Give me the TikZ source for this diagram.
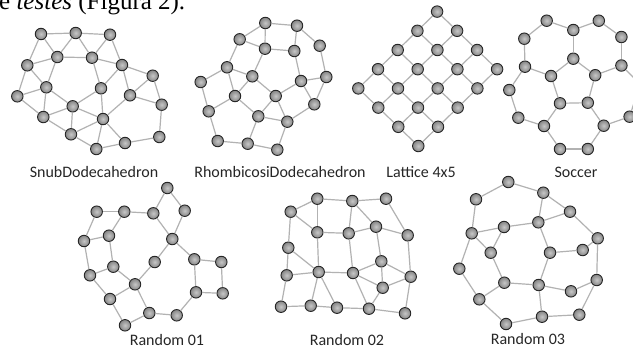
\documentclass[tikz,border=0pt]{standalone}
\usepackage{fontspec}
\newfontfamily\lblfont{Carlito}
\newfontfamily\docfont{Liberation Serif}
\begin{document}
\begin{tikzpicture}[x=1pt,y=-1pt,
  vtx/.style={circle,inner sep=0pt,minimum size=11.5pt,shading=radial,
    inner color=black!22,outer color=black!48,draw=black!85,line width=0.9pt},
  edg/.style={draw=black!30,line width=1.2pt},
  lbl/.style={font=\lblfont\fontsize{16}{19}\selectfont,text=black!85,inner sep=0pt}]
\useasboundingbox (0,0) rectangle (633,349);
\fill[white] (0,0) rectangle (633,349);
\clip (0,0) rectangle (633,349);

% running text of the page above the figure
\node[anchor=base west,inner sep=0pt,font=\docfont\fontsize{25}{30}\selectfont] (doc) at (-1,9.5) {e \textit{testes} (Figura 2).};

% ---------- SnubDodecahedron ----------
\foreach \n/\x/\y in {a1/41/34,a2/75.7/33,a3/110/34.7,a4/57.3/57,a5/92/57.7,
  a6/27.3/65.3,a7/122/65,a8/152.7/75.7,a9/46.3/87.3,a10/101/88.3,
  a11/17.3/96.3,a12/130/95.3,a13/161.7/104.7,a14/72.7/106.3,a15/43.3/117,
  a16/103/119,a17/71/134.3,a18/159.3/137,a19/125/143,a20/96.3/149}
  \node[vtx] (\n) at (\x,\y) {};
\foreach \u/\v in {a1/a2,a2/a3,a1/a4,a2/a4,a2/a5,a3/a5,a4/a5,a1/a6,a4/a6,a4/a9,
  a6/a9,a6/a11,a9/a11,a11/a15,a9/a15,a9/a14,a14/a15,a5/a10,a5/a7,a3/a7,a7/a10,
  a7/a8,a7/a12,a8/a12,a8/a13,a12/a13,a13/a18,a18/a19,a12/a16,a10/a16,a10/a14,
  a14/a16,a14/a17,a15/a17,a16/a17,a17/a20,a16/a20,a16/a19,a19/a20}
  \draw[edg] (\u) -- (\v);
\node[lbl] (snub) at (94,172) {SnubDodecahedron};

% ---------- RhombicosiDodecahedron ----------
\foreach \n/\x/\y in {r1/265.3/23,r2/297/25.7,r3/239.7/39.3,r4/265/48.7,r5/294.3/51,
  r6/319.7/45.7,r7/227/67.3,r8/252.3/76.3,r9/200.7/82,r10/301/81,r11/326.3/77,
  r12/235/96,r13/275.7/96,r14/208.7/111.3,r15/314.3/104.3,r16/258.3/116.3,
  r17/287.3/121.7,r18/217.7/141,r19/247.7/143.7,r20/277.3/149.7}
  \node[vtx] (\n) at (\x,\y) {};
\foreach \u/\v in {r1/r2,r1/r3,r1/r4,r3/r4,r4/r5,r2/r5,r2/r6,r5/r10,r6/r11,r4/r8,
  r3/r7,r7/r8,r7/r9,r7/r12,r8/r12,r8/r13,r9/r14,r12/r14,r12/r16,r13/r16,r13/r10,
  r13/r17,r16/r17,r10/r11,r10/r15,r11/r15,r15/r17,r16/r19,r14/r18,r18/r19,
  r17/r20,r19/r20}
  \draw[edg] (\u) -- (\v);
\node[lbl] (rhombi) at (280,172) {RhombicosiDodecahedron};

% ---------- Lattice 4x5 (grid turned by 45 degrees) ----------
\foreach \i in {0,...,3}
  \foreach \j in {0,...,4}
    \node[vtx] (L-\i-\j) at ({418.3-20*\i+19.7*\j},{146-19.2*(\i+\j)}) {};
\foreach \i in {0,...,3}
  \foreach \j [count=\k] in {0,...,3}
    \draw[edg] (L-\i-\j) -- (L-\i-\k);
\foreach \i [count=\k] in {0,...,2}
  \foreach \j in {0,...,4}
    \draw[edg] (L-\i-\j) -- (L-\k-\j);
\node[lbl] (lattice) at (421,172) {Lattice 4x5};

% ---------- Soccer ----------
\foreach \n/\x/\y in {s1/546.7/20.7,s2/573.3/30,s3/598.8/20.7,s4/524.3/38.7,
  s5/621.4/37,s6/573.3/58.7,s7/525/66.7,s8/621.4/65.5,s9/551/76,s10/595.2/75.2,
  s12/509.3/90,s13/560/103.3,s14/587.8/102.7,s15/518.3/117.7,s16/629.6/116.7,
  s17/544/126,s18/603.7/125.7,s19/560/149,s20/587.8/149}
  \node[vtx] (\n) at (\x,\y) {};
\coordinate (sx) at (640,84);
\foreach \u/\v in {s1/s2,s2/s3,s1/s4,s3/s5,s2/s6,s4/s7,s5/s8,s6/s9,s6/s10,s7/s9,
  s8/s10,s7/s12,s9/s13,s10/s14,s13/s14,s12/s15,s15/s17,s13/s17,s14/s18,s17/s19,
  s18/s20,s19/s20,s16/s18,s8/sx,s16/sx}
  \draw[edg] (\u) -- (\v);
\node[lbl] (soccer) at (576,172) {Soccer};

% ---------- Random 01 ----------
\foreach \n/\x/\y in {q1/167.3/188,q2/96.7/211.7,q3/124.3/211.7,q4/153.3/213.3,
  q5/184.7/210.7,q6/109/235.7,q7/84/241,q8/172.3/239,q9/154.7/262,q10/194.3/259.3,
  q11/221.3/262,q12/113.3/266.7,q13/90/275.3,q14/135/284.3,q15/196/292.3,
  q16/222.7/293.3,q17/110/299,q18/149.3/313,q19/176.7/315.3,q20/125/325.3}
  \node[vtx] (\n) at (\x,\y) {};
\foreach \u/\v in {q2/q3,q3/q4,q4/q1,q1/q5,q5/q8,q4/q8,q8/q9,q9/q14,q8/q10,q10/q11,
  q11/q16,q15/q16,q10/q15,q15/q19,q19/q18,q18/q14,q14/q12,q12/q13,q13/q7,q7/q2,
  q7/q6,q6/q3,q6/q12,q13/q17,q17/q14,q17/q20,q20/q18}
  \draw[edg] (\u) -- (\v);
\node[lbl] (rand1) at (167,340) {Random 01};

% ---------- Random 02 ----------
\foreach \n/\x/\y in {p1/317.3/198.7,p2/352.3/201,p3/386/198.7,p4/290.7/211.7,
  p5/376/226.7,p6/317.3/232.3,p7/348.7/233.3,p8/407.7/235.3,p9/288.3/247.7,
  p10/381.3/261.3,p11/318.7/272,p12/353/273,p13/286.7/275.3,p14/410.7/276.7,
  p15/382.7/287.7,p16/281/306.7,p17/310.7/305.7,p18/337/307.7,p19/369/308.7,
  p20/405/313.3}
  \node[vtx] (\n) at (\x,\y) {};
\foreach \u/\v in {p4/p1,p1/p2,p2/p3,p1/p6,p4/p6,p2/p7,p2/p5,p6/p7,p7/p5,p3/p8,
  p5/p8,p5/p10,p6/p11,p7/p12,p4/p9,p9/p13,p9/p11,p13/p11,p11/p12,p12/p10,p10/p14,
  p10/p15,p12/p15,p15/p14,p8/p14,p13/p16,p16/p17,p17/p18,p18/p19,p19/p20,p20/p14,
  p11/p17,p11/p18,p12/p19,p15/p19}
  \draw[edg] (\u) -- (\v);
\node[lbl] (rand2) at (347,340) {Random 02};

% ---------- Random 03 ----------
\foreach \n/\x/\y in {t1/508.3/182,t2/476/199.3,t3/543.3/192.7,t4/570/211.7,
  t5/538.3/222.3,t6/504/227,t7/471.7/233.3,t8/597.7/238.3,t9/490.7/252.7,
  t10/550/252.7,t11/582.7/250,t12/459.3/268.7,t13/596.7/280,t14/504.3/282.7,
  t15/538.7/285,t16/571/291.3,t17/479.3/299.3,t18/542/316.7,t19/579.3/314.7,
  t20/506/324}
  \node[vtx] (\n) at (\x,\y) {};
\foreach \u/\v in {t2/t1,t1/t3,t3/t5,t3/t4,t4/t5,t4/t8,t8/t11,t11/t10,t10/t5,t5/t6,
  t6/t7,t2/t7,t7/t9,t6/t9,t9/t14,t7/t12,t12/t17,t17/t14,t14/t15,t15/t10,t15/t16,
  t16/t13,t8/t13,t13/t19,t19/t18,t15/t18,t18/t20,t20/t17}
  \draw[edg] (\u) -- (\v);
\node[lbl] (rand3) at (528,339) {Random 03};
\end{tikzpicture}
\end{document}
